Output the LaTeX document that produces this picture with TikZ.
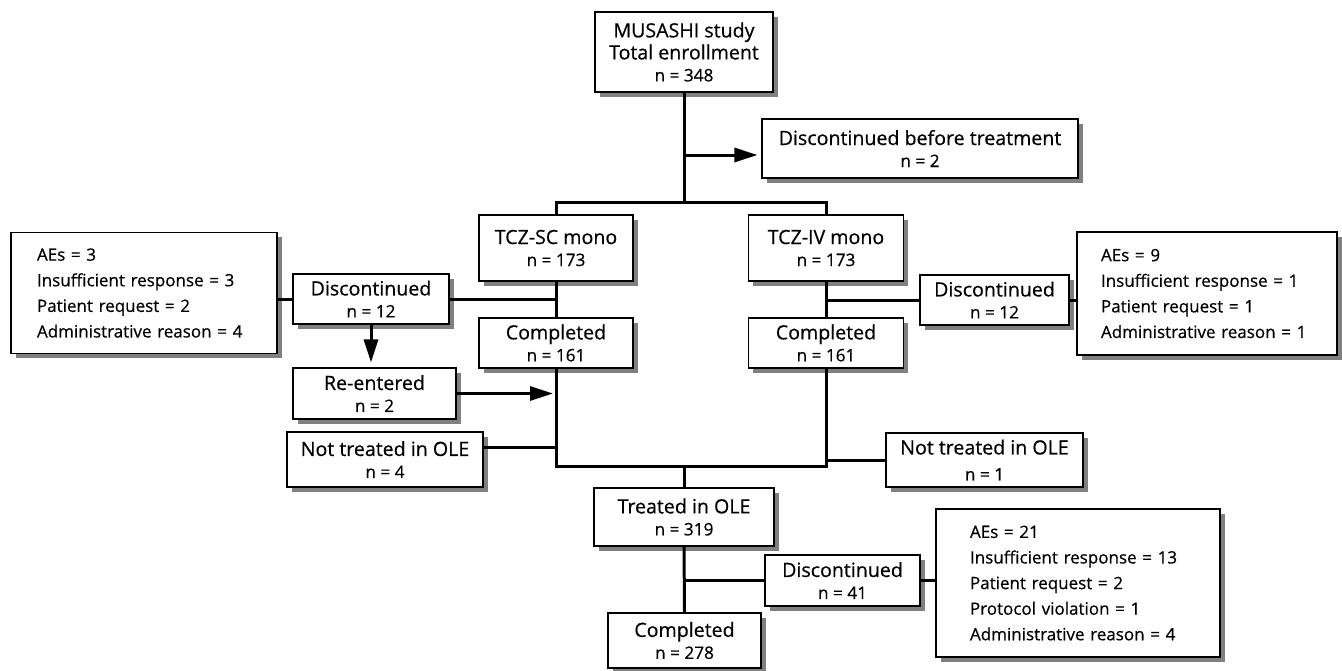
\documentclass[tikz,border=0pt]{standalone}
\usepackage{fontspec}
\setmainfont{Open Sans}[UprightFeatures={FakeBold=0.5}]
\usetikzlibrary{shadows,arrows.meta,calc}
\newcommand\nn[1]{{\fontsize{8.6}{10}\selectfont #1}}
\tikzset{
  box/.style={draw=black, line width=0.55pt, fill=white, inner sep=0pt, align=center,
    font=\fontsize{9.8}{11}\selectfont,
    drop shadow={shadow xshift=2.3pt, shadow yshift=-2.3pt, fill=black!50, opacity=1}},
  reasons/.style={box, align=left, font=\fontsize{8.5}{12.8}\selectfont},
  conn/.style={line width=1.5pt},
  arr/.style={conn, -{Triangle[length=11.5pt,width=7pt]}},
}
\begin{document}
\begin{tikzpicture}[x=0.5pt,y=-0.5pt]
\useasboundingbox (0,0) rectangle (1342,670);
% nodes
\node[box, minimum width=89pt, minimum height=40pt] (mus) at (684,52) {MUSASHI study\\Total enrollment\\\nn{n = 348}};
\node[box, minimum width=158pt, minimum height=29.5pt] (dbt) at (920,148.5) {Discontinued before treatment\\\nn{n = 2}};
\node[box, minimum width=77pt, minimum height=33pt] (sc) at (556,248) {TCZ-SC mono\\\nn{n = 173}};
\node[box, minimum width=77.5pt, minimum height=33pt] (iv) at (826,248) {TCZ-IV mono\\\nn{n = 173}};
\node[box, minimum width=78pt, minimum height=25pt] (dsc) at (371,299) {Discontinued\\\nn{n = 12}};
\node[reasons, text width=107pt, inner xsep=13pt, minimum height=60.5pt] (rsc) at (144,293) {AEs = 3\\Insufficient response = 3\\Patient request = 2\\Administrative reason = 4};
\node[box, minimum width=77pt, minimum height=25pt] (csc) at (556,343) {Completed\\\nn{n = 161}};
\node[box, minimum width=77.5pt, minimum height=25pt] (civ) at (826,343) {Completed\\\nn{n = 161}};
\node[box, minimum width=74.5pt, minimum height=25pt] (div) at (994.5,300) {Discontinued\\\nn{n = 12}};
\node[reasons, text width=106pt, inner xsep=12pt, minimum height=61.5pt] (riv) at (1207,293.5) {AEs = 9\\Insufficient response = 1\\Patient request = 1\\Administrative reason = 1};
\node[box, minimum width=81.5pt, minimum height=25.5pt] (re) at (374.5,393.5) {Re-entered\\\nn{n = 2}};
\node[box, minimum width=98pt, minimum height=27.5pt] (nsc) at (385,459.5) {Not treated in OLE\\\nn{n = 4}};
\node[box, minimum width=98.5pt, minimum height=27pt] (niv) at (984.5,460) {Not treated in OLE\\[2pt]\nn{n = 1}};
\node[box, minimum width=90pt, minimum height=29pt] (tre) at (684,517) {Treated in OLE\\\nn{n = 319}};
\node[box, minimum width=77.5pt, minimum height=25.5pt] (dole) at (842.5,580.5) {Discontinued\\\nn{n = 41}};
\node[reasons, text width=108pt, inner xsep=17pt, minimum height=74pt] (role) at (1078,583) {AEs = 21\\Insufficient response = 13\\Patient request = 2\\Protocol violation = 1\\Administrative reason = 4};
\node[box, minimum width=76.5pt, minimum height=27.5pt] (cole) at (684.5,640.5) {Completed\\\nn{n = 278}};
% junction coordinates
\coordinate (top) at (684,202);
\coordinate (a1) at (684,155);
\coordinate (bl) at (684,466);
\coordinate (n1) at ([yshift=6.25pt]nsc.east);
% connectors
\draw[conn] (mus.south) -- (top);
\draw[arr, shorten >=2pt] (a1) -- (a1 -| dbt.west);
\draw[conn] (sc.north) -- (sc.north |- top) -- (iv.north |- top) -- (iv.north);
\draw[conn] (sc.south) -- (csc.north);
\draw[conn] (dsc.east) -- (dsc.east -| sc.south);
\draw[conn] (dsc.west) -- (dsc.west -| rsc.east);
\draw[conn] (iv.south) -- (civ.north);
\draw[conn] (div.west) -- (div.west -| iv.south);
\draw[conn] (div.east) -- (div.east -| riv.west);
\draw[conn] (csc.south) -- (csc.south |- bl) -- (civ.south |- bl) -- (civ.south);
\draw[conn] (bl) -- (tre.north);
\draw[arr, shorten >=2.5pt] (dsc.south) -- (dsc.south |- re.north);
\draw[arr, shorten >=1.5pt] (re.east) -- (re.east -| csc.south);
\draw[conn] (n1) -- (n1 -| csc.south);
\draw[conn] (niv.west) -- (niv.west -| civ.south);
\draw[conn] (tre.south) -- (cole.north);
\draw[conn] (dole.west) -- (dole.west -| tre.south);
\draw[conn] (dole.east) -- (dole.east -| role.west);
\end{tikzpicture}
\end{document}
